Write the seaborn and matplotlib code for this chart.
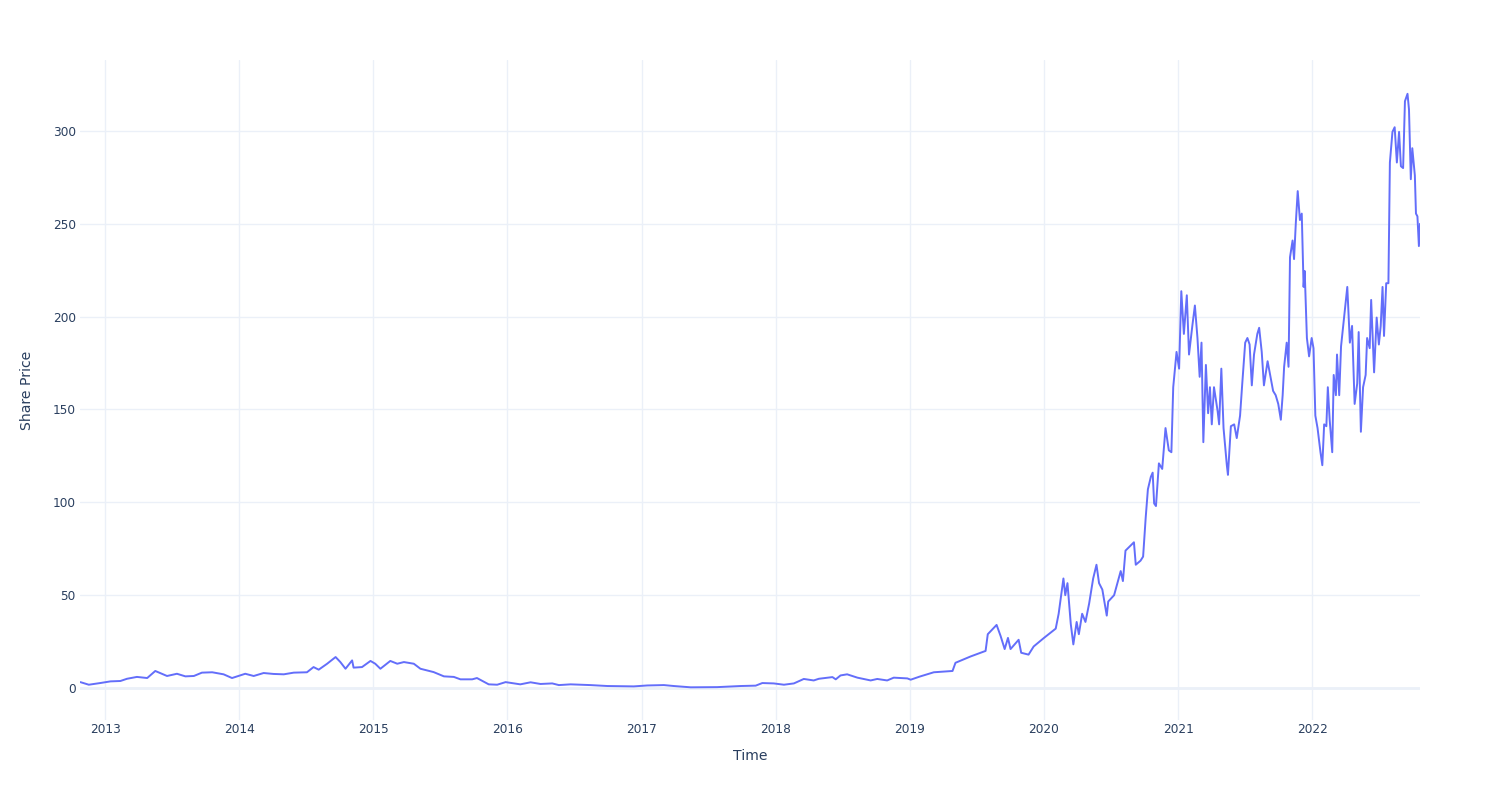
import matplotlib
matplotlib.use("Agg")
import matplotlib.pyplot as plt
import pandas as pd
import seaborn as sns

dates = [
    "2012-10-25", "2012-11-17", "2012-12-18", "2013-01-15", "2013-02-11", "2013-03-01",
    "2013-03-28", "2013-04-25", "2013-05-17", "2013-06-18", "2013-07-15", "2013-08-07",
    "2013-08-30", "2013-09-21", "2013-10-19", "2013-11-19", "2013-12-12", "2014-01-17",
    "2014-02-09", "2014-03-08", "2014-04-04", "2014-05-02", "2014-05-29", "2014-07-04",
    "2014-07-22", "2014-08-05", "2014-08-28", "2014-09-20", "2014-10-03", "2014-10-17",
    "2014-11-04", "2014-11-08", "2014-12-01", "2014-12-24", "2015-01-06", "2015-01-20",
    "2015-02-16", "2015-03-07", "2015-03-25", "2015-04-21", "2015-05-09", "2015-06-14",
    "2015-07-12", "2015-08-08", "2015-08-26", "2015-09-27", "2015-10-10", "2015-11-11",
    "2015-12-04", "2015-12-27", "2016-02-05", "2016-03-04", "2016-03-31", "2016-05-02",
    "2016-05-20", "2016-06-21", "2016-08-14", "2016-09-29", "2016-12-10", "2017-01-16",
    "2017-03-02", "2017-03-29", "2017-05-14", "2017-07-25", "2017-09-27", "2017-11-07",
    "2017-11-25", "2017-12-26", "2018-01-23", "2018-02-19", "2018-03-18", "2018-04-14",
    "2018-04-28", "2018-06-04", "2018-06-13", "2018-06-26", "2018-07-14", "2018-08-11",
    "2018-09-16", "2018-10-04", "2018-10-31", "2018-11-18", "2018-12-25", "2019-01-03",
    "2019-01-28", "2019-03-07", "2019-04-27", "2019-05-05", "2019-06-15", "2019-07-26",
    "2019-08-01", "2019-08-25", "2019-09-05", "2019-09-16", "2019-09-25", "2019-10-02",
    "2019-10-24", "2019-10-31", "2019-11-20", "2019-12-04", "2020-01-01", "2020-02-02",
    "2020-02-10", "2020-02-23", "2020-02-28", "2020-03-05", "2020-03-14", "2020-03-21",
    "2020-03-30", "2020-04-05", "2020-04-14", "2020-04-23", "2020-05-03", "2020-05-14",
    "2020-05-23", "2020-05-30", "2020-06-08", "2020-06-20", "2020-06-24", "2020-07-10",
    "2020-07-28", "2020-08-03", "2020-08-10", "2020-09-02", "2020-09-07", "2020-09-20",
    "2020-09-27", "2020-10-04", "2020-10-10", "2020-10-18", "2020-10-23", "2020-10-27",
    "2020-11-01", "2020-11-09", "2020-11-18", "2020-11-27", "2020-12-06", "2020-12-13",
    "2020-12-18", "2020-12-27", "2021-01-03", "2021-01-09", "2021-01-16", "2021-01-24",
    "2021-01-30", "2021-02-08", "2021-02-15", "2021-02-22", "2021-02-28", "2021-03-05",
    "2021-03-10", "2021-03-17", "2021-03-23", "2021-03-28", "2021-04-02", "2021-04-08",
    "2021-04-18", "2021-04-22", "2021-04-28", "2021-05-04", "2021-05-13", "2021-05-16",
    "2021-05-24", "2021-06-02", "2021-06-09", "2021-06-18", "2021-06-24", "2021-07-02",
    "2021-07-08", "2021-07-14", "2021-07-20", "2021-07-26", "2021-08-04", "2021-08-09",
    "2021-08-16", "2021-08-22", "2021-09-01", "2021-09-10", "2021-09-16", "2021-09-23",
    "2021-09-30", "2021-10-07", "2021-10-12", "2021-10-16", "2021-10-23", "2021-10-28",
    "2021-11-01", "2021-11-08", "2021-11-12", "2021-11-17", "2021-11-22", "2021-11-28",
    "2021-12-03", "2021-12-08", "2021-12-11", "2021-12-17", "2021-12-23", "2021-12-30",
    "2022-01-04", "2022-01-09", "2022-01-15", "2022-01-23", "2022-01-28", "2022-02-02",
    "2022-02-08", "2022-02-12", "2022-02-17", "2022-02-24", "2022-02-28", "2022-03-06",
    "2022-03-09", "2022-03-15", "2022-03-20", "2022-03-27", "2022-04-06", "2022-04-13",
    "2022-04-19", "2022-04-26", "2022-05-03", "2022-05-07", "2022-05-13", "2022-05-19",
    "2022-05-26", "2022-05-30", "2022-06-06", "2022-06-10", "2022-06-18", "2022-06-25",
    "2022-07-01", "2022-07-06", "2022-07-11", "2022-07-15", "2022-07-21", "2022-07-27",
    "2022-07-31", "2022-08-07", "2022-08-13", "2022-08-19", "2022-08-25", "2022-08-30",
    "2022-09-05", "2022-09-10", "2022-09-17", "2022-09-21", "2022-09-26", "2022-09-30",
    "2022-10-07", "2022-10-10", "2022-10-14", "2022-10-18", "2022-10-21",
]

prices = [
    3.2, 1.8, 2.7, 3.6, 3.8, 5.0,
    6.0, 5.4, 9.2, 6.5, 7.7, 6.3,
    6.5, 8.3, 8.5, 7.4, 5.4, 7.7,
    6.5, 8.1, 7.6, 7.4, 8.3, 8.5,
    11.3, 9.9, 13.1, 16.7, 14.0, 10.4,
    14.9, 11.0, 11.3, 14.6, 13.1, 10.4,
    14.6, 13.1, 14.0, 13.1, 10.4, 8.6,
    6.3, 6.0, 4.7, 4.7, 5.4, 2.0,
    1.8, 3.2, 2.0, 3.1, 2.2, 2.5,
    1.6, 2.0, 1.6, 1.1, 0.9, 1.4,
    1.6, 1.1, 0.4, 0.5, 1.1, 1.3,
    2.7, 2.5, 1.8, 2.5, 4.9, 4.1,
    5.0, 5.9, 4.7, 6.8, 7.4, 5.6,
    4.1, 4.9, 4.1, 5.6, 5.2, 4.5,
    6.2, 8.5, 9.2, 13.6, 17.0, 20.0,
    29.0, 34.0, 28.0, 21.0, 27.0, 21.0,
    26.0, 19.0, 18.0, 22.4, 27.0, 32.0,
    40.0, 59.0, 50.0, 56.5, 34.5, 23.5,
    35.6, 29.0, 40.0, 35.6, 45.5, 59.0,
    66.4, 56.5, 53.0, 39.0, 46.6, 50.0,
    63.0, 57.6, 74.0, 78.5, 66.4, 68.6,
    70.8, 91.7, 107.0, 113.7, 116.0, 99.4,
    98.0, 121.0, 118.0, 140.0, 128.0, 127.0,
    162.0, 181.0, 172.0, 213.7, 190.7, 211.5,
    179.6, 195.0, 206.0, 188.5, 167.6, 186.0,
    132.4, 174.0, 148.0, 162.0, 142.0, 162.0,
    149.0, 142.0, 172.0, 140.0, 120.0, 114.8,
    141.0, 142.0, 134.6, 146.7, 164.0, 186.0,
    188.5, 185.0, 163.0, 179.6, 190.7, 194.0,
    181.0, 163.0, 176.0, 166.5, 160.0, 157.7,
    153.0, 144.5, 157.7, 173.0, 186.0, 173.0,
    232.0, 241.0, 231.0, 251.0, 267.6, 252.0,
    255.5, 216.0, 224.6, 188.5, 178.6, 188.5,
    183.0, 146.7, 140.0, 127.0, 120.0, 142.0,
    141.0, 162.0, 144.5, 127.0, 168.6, 157.7,
    179.6, 157.7, 184.0, 197.0, 216.0, 186.0,
    195.0, 153.0, 164.0, 191.7, 138.0, 162.0,
    168.6, 188.5, 183.0, 209.0, 170.0, 199.5,
    185.0, 195.0, 216.0, 189.6, 218.0, 218.0,
    283.0, 299.5, 302.0, 283.0, 299.5, 281.0,
    280.0, 316.0, 320.0, 311.6, 274.0, 290.7,
    276.0, 255.5, 254.0, 238.0, 250.0,
]

y_ticks = [0, 50, 100, 150, 200, 250, 300]
x_tick_years = ["2013", "2014", "2015", "2016", "2017", "2018", "2019", "2020", "2021", "2022"]

df = pd.DataFrame({"Time": pd.to_datetime(dates), "Share Price": prices})

sns.set_theme(style="white")
plt.rcParams["font.family"] = ["DejaVu Sans"]

TEXT = "#2a3f5f"
GRID = "#EBF0F8"

fig = plt.figure(figsize=(15, 8), dpi=100)
ax = fig.add_axes([80 / 1500, 1 - 720 / 800, 1340 / 1500, 660 / 800])

sns.lineplot(data=df, x="Time", y="Share Price", ax=ax, color="#636EFA", linewidth=1.4, zorder=3)

ax.set_xlim(pd.Timestamp("2012-10-24"), pd.Timestamp("2022-10-21"))
ax.set_ylim(-17.2, 338.2)

ax.set_yticks(y_ticks)
ax.set_yticklabels([str(t) for t in y_ticks])
ax.set_xticks(pd.to_datetime([y + "-01-01" for y in x_tick_years]))
ax.set_xticklabels(x_tick_years)

ax.grid(True, color=GRID, linewidth=1.0, zorder=0)
ax.axhline(0, color=GRID, linewidth=2.0, zorder=1)
for s in ax.spines.values():
    s.set_visible(False)

ax.tick_params(axis="both", length=0, labelsize=8.7, labelcolor=TEXT)
ax.tick_params(axis="y", pad=3)
ax.tick_params(axis="x", pad=2.5)

ax.set_xlabel("Time", fontsize=10.1, color=TEXT)
ax.set_ylabel("Share Price", fontsize=10.1, color=TEXT)
ax.xaxis.label.set_va("center")
ax.yaxis.label.set_va("center")
ax.xaxis.set_label_coords(0.5, (720 - 756) / 660)
ax.yaxis.set_label_coords((27 - 80) / 1340, 0.5)

fig.savefig("out.png", dpi=100, facecolor="white")
